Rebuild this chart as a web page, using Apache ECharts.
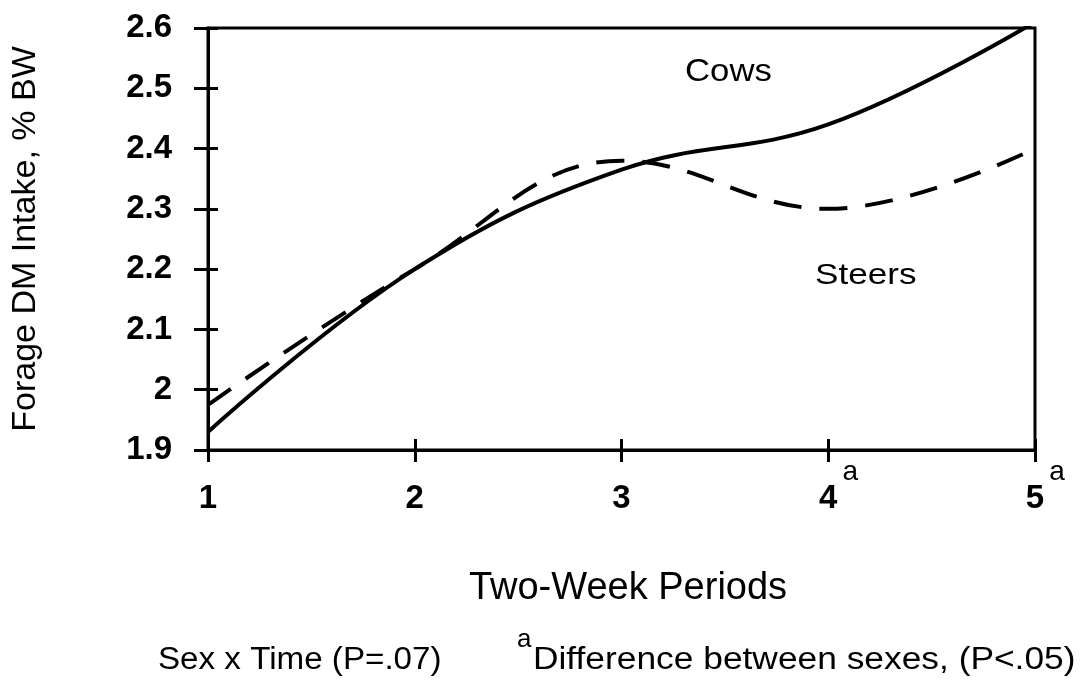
<!DOCTYPE html>
<html>
<head>
<meta charset="utf-8">
<script src="https://cdn.jsdelivr.net/npm/echarts@6/dist/echarts.min.js"></script>
<style>
  html, body { margin: 0; padding: 0; background: #fff; }
  #main { width: 1085px; height: 690px; }
</style>
</head>
<body>
<div id="main"></div>
<script>
// periods on the x axis
var periods = ['1', '2', '3', '4', '5'];
// periods flagged "a" (sexes differ, P<.05)
var sigMarks = ['', '', '', 'a', 'a'];
// forage DM intake, % BW
var cows = [1.93, 2.20, 2.365, 2.44, 2.61];
var steers = [1.975, 2.20, 2.38, 2.30, 2.40];

var FONT = '"Liberation Sans", Arial, sans-serif';

var chart = echarts.init(document.getElementById('main'));

// x label: small "a" on a first line, pushed right; digit centred on the tick below
function xLabel(v, i) {
  return '{sup|' + (sigMarks[i] || ' ') + '}\n{n|' + v + '}';
}

chart.setOption({
  backgroundColor: '#ffffff',
  animation: false,
  grid: {
    left: 208,
    right: 50,
    top: 28,
    bottom: 240,
    show: true,
    borderColor: '#000',
    borderWidth: 3
  },
  xAxis: [
    {
      type: 'category',
      boundaryGap: false,
      data: periods,
      name: 'Two-Week Periods',
      nameLocation: 'middle',
      nameGap: 120,
      nameTextStyle: { fontFamily: FONT, fontSize: 38, color: '#000', padding: [0, 0, 0, 13] },
      axisLine: { lineStyle: { color: '#000', width: 3 } },
      axisTick: { show: true, length: 12, lineStyle: { color: '#000', width: 3 } },
      axisLabel: {
        margin: 13,
        color: '#000',
        formatter: xLabel,
        rich: {
          sup: { fontFamily: FONT, fontSize: 28, lineHeight: 19, padding: [0, 0, 0, 44], color: '#000' },
          n: { fontFamily: FONT, fontSize: 33, lineHeight: 33, fontWeight: 'bold', color: '#000' }
        }
      },
      splitLine: { show: false }
    },
    {
      // inner half of the x ticks
      type: 'category',
      position: 'bottom',
      boundaryGap: false,
      data: periods,
      axisLine: { show: false },
      axisTick: { show: true, inside: true, length: 11, lineStyle: { color: '#000', width: 3 } },
      axisLabel: { show: false },
      splitLine: { show: false }
    }
  ],
  yAxis: [
    {
      type: 'value',
      min: 1.9,
      max: 2.6,
      interval: 0.1,
      name: 'Forage DM Intake, % BW',
      nameLocation: 'middle',
      nameGap: 165,
      nameTextStyle: { fontFamily: FONT, fontSize: 34, color: '#000' },
      axisLine: { show: true, lineStyle: { color: '#000', width: 3 } },
      axisTick: { show: true, length: 14, lineStyle: { color: '#000', width: 3 } },
      axisLabel: {
        margin: 36,
        color: '#000',
        fontFamily: FONT,
        fontSize: 33,
        fontWeight: 'bold',
        formatter: function (v) { return String(Math.round(v * 10) / 10); }
      },
      splitLine: { show: false }
    },
    {
      // inner half of the y ticks
      type: 'value',
      position: 'left',
      min: 1.9,
      max: 2.6,
      interval: 0.1,
      axisLine: { show: false },
      axisTick: { show: true, inside: true, length: 10, lineStyle: { color: '#000', width: 3 } },
      axisLabel: { show: false },
      splitLine: { show: false }
    }
  ],
  series: [
    {
      name: 'Cows',
      type: 'line',
      smooth: 0.4,
      data: cows,
      showSymbol: false,
      lineStyle: { color: '#000', width: 4 }
    },
    {
      name: 'Steers',
      type: 'line',
      smooth: 0.4,
      data: steers,
      showSymbol: false,
      lineStyle: { color: '#000', width: 4, type: [28, 18] }
    }
  ],
  graphic: [
    { type: 'text', left: 685, top: 57, scaleX: 1.12, style: { text: 'Cows', font: '31px ' + FONT, fill: '#000' } },
    { type: 'text', left: 815, top: 261, scaleX: 1.17, style: { text: 'Steers', font: '30px ' + FONT, fill: '#000' } },
    { type: 'text', left: 158, top: 645, scaleX: 1.07, style: { text: 'Sex x Time (P=.07)', font: '31px ' + FONT, fill: '#000' } },
    { type: 'text', left: 517, top: 627, style: { text: 'a', font: '26px ' + FONT, fill: '#000' } },
    { type: 'text', left: 533, top: 645, scaleX: 1.14, style: { text: 'Difference between sexes, (P<.05)', font: '31px ' + FONT, fill: '#000' } }
  ]
});
</script>
</body>
</html>
